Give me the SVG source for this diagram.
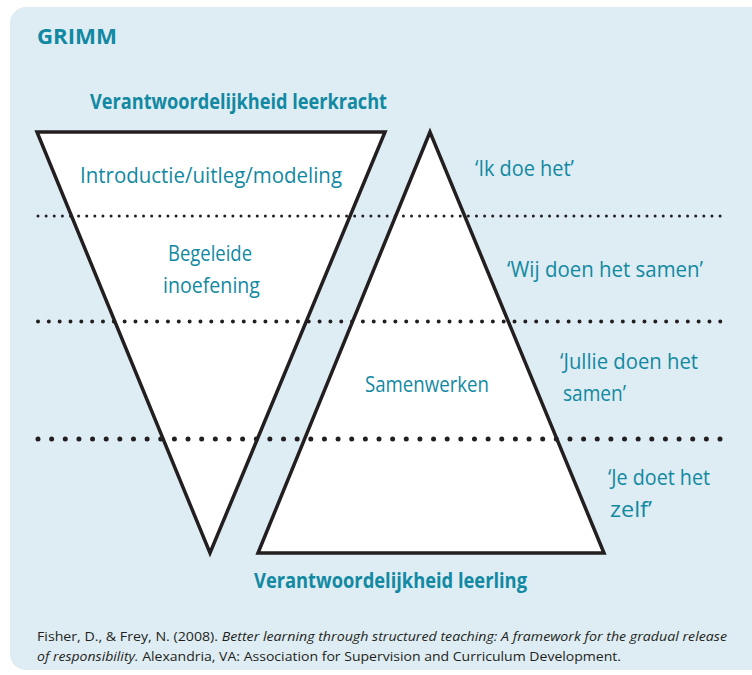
<svg xmlns="http://www.w3.org/2000/svg" width="752" height="675" viewBox="0 0 752 675">
<style>
.t{font-family:"Open Sans","Liberation Sans",sans-serif;fill:#1189a2;font-size:22px}
.b{font-weight:bold}
.f{font-family:"Open Sans","Liberation Sans",sans-serif;fill:#231f20;font-size:13.5px}
.i{font-style:italic}
.tri{fill:#ffffff;stroke:#231f20;stroke-width:3.5;stroke-linejoin:miter}
.dot{stroke:#231f20;stroke-linecap:round;fill:none}
</style>
<rect x="0" y="0" width="752" height="675" fill="#ffffff"/>
<rect x="10" y="7" width="760" height="663" rx="16" fill="#deecf3"/>
<text class="t b" x="37" y="44" font-size="25" textLength="80" lengthAdjust="spacingAndGlyphs">GRIMM</text>
<text class="t b" x="90" y="109" font-size="23" textLength="297" lengthAdjust="spacingAndGlyphs">Verantwoordelijkheid leerkracht</text>
<g id="teacher">
<polygon class="tri" points="37,132 385,132 210,553"/>
</g>
<g id="student">
<polygon class="tri" points="430,132 258,553 604,553"/>
</g>
<g id="connectors">
<line class="dot" x1="38" y1="216" x2="720.5" y2="216" stroke-width="3" stroke-dasharray="0 8.12"/>
<line class="dot" x1="38" y1="321.5" x2="720.5" y2="321.5" stroke-width="4" stroke-dasharray="0 10.83"/>
<line class="dot" x1="38" y1="439" x2="720.5" y2="439" stroke-width="5" stroke-dasharray="0 13.64"/>
</g>
<g id="labels">
<text class="t" x="80" y="183" textLength="262" lengthAdjust="spacingAndGlyphs">Introductie/uitleg/modeling</text>
<text class="t" x="168" y="261" textLength="84" lengthAdjust="spacingAndGlyphs">Begeleide</text>
<text class="t" x="163" y="293" textLength="97" lengthAdjust="spacingAndGlyphs">inoefening</text>
<text class="t" x="365" y="392" textLength="124" lengthAdjust="spacingAndGlyphs">Samenwerken</text>
<text class="t" x="475" y="176" textLength="99" lengthAdjust="spacingAndGlyphs">‘Ik doe het’</text>
<text class="t" x="507" y="277" textLength="196" lengthAdjust="spacingAndGlyphs">‘Wij doen het samen’</text>
<text class="t" x="560" y="369" textLength="138" lengthAdjust="spacingAndGlyphs">‘Jullie doen het</text>
<text class="t" x="563" y="401" textLength="63" lengthAdjust="spacingAndGlyphs">samen’</text>
<text class="t" x="608" y="485" textLength="102" lengthAdjust="spacingAndGlyphs">‘Je doet het</text>
<text class="t" x="610" y="517" textLength="42" lengthAdjust="spacingAndGlyphs">zelf’</text>
</g>
<text class="t b" x="254" y="588" font-size="23" textLength="273" lengthAdjust="spacingAndGlyphs">Verantwoordelijkheid leerling</text>
<text class="f" x="37" y="641" textLength="690" lengthAdjust="spacingAndGlyphs">Fisher, D., &amp; Frey, N. (2008). <tspan class="i">Better learning through structured teaching: A framework for the gradual release</tspan></text>
<text class="f" x="37" y="661" textLength="584" lengthAdjust="spacingAndGlyphs"><tspan class="i">of responsibility.</tspan> Alexandria, VA: Association for Supervision and Curriculum Development.</text>
</svg>
